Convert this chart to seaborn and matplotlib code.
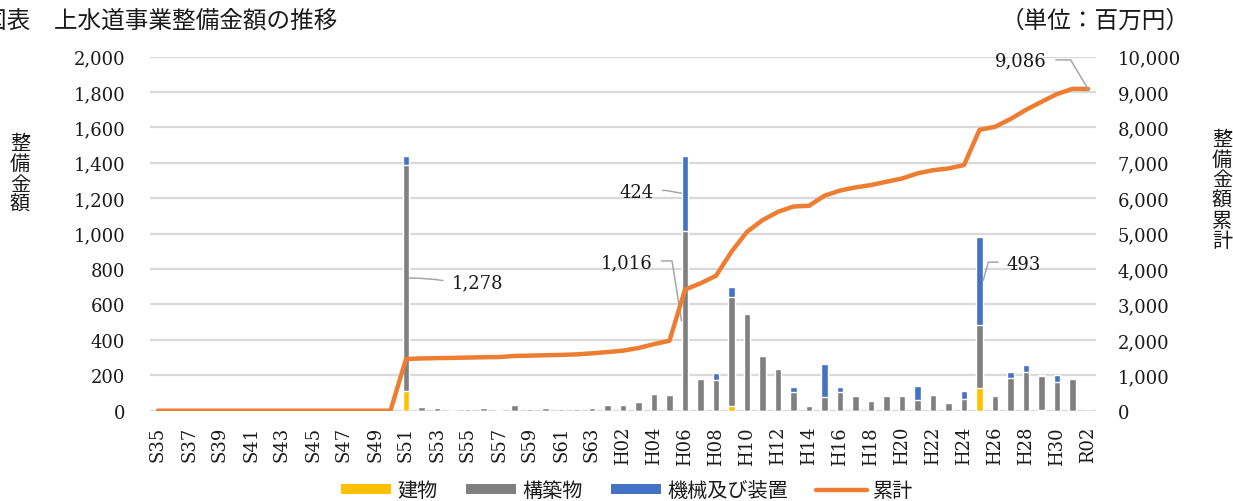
import numpy as np
import pandas as pd
import matplotlib
matplotlib.use("Agg")
import matplotlib.pyplot as plt
from matplotlib.patches import Patch
from matplotlib.lines import Line2D
import seaborn as sns

# Fiscal years (Showa / Heisei / Reiwa)
years = [
    "S35", "S36", "S37", "S38", "S39", "S40", "S41", "S42", "S43", "S44",
    "S45", "S46", "S47", "S48", "S49", "S50", "S51", "S52", "S53", "S54",
    "S55", "S56", "S57", "S58", "S59", "S60", "S61", "S62", "S63",
    "H01", "H02", "H03", "H04", "H05", "H06", "H07", "H08", "H09", "H10",
    "H11", "H12", "H13", "H14", "H15", "H16", "H17", "H18", "H19", "H20",
    "H21", "H22", "H23", "H24", "H25", "H26", "H27", "H28", "H29", "H30",
    "R01", "R02",
]

# Investment amount by asset type (million yen)
building = [
    0, 0, 0, 0, 0, 0, 0, 0, 0, 0, 0, 0, 0, 0, 0, 0,
    110, 0, 0, 0, 0, 0, 0, 0, 0, 0, 0, 0, 0,
    0, 0, 0, 0, 0, 0, 0, 0, 26, 0,
    0, 0, 0, 0, 0, 0, 0, 0, 0, 0,
    0, 0, 0, 0, 126, 0, 0, 0, 3, 0,
    0, 0,
]
structure = [
    0, 0, 0, 0, 0, 0, 0, 0, 0, 0, 0, 0, 0, 0, 0, 0,
    1278, 20, 17, 6, 11, 13, 4, 32, 9, 13, 9, 11, 17,
    35, 30, 50, 97, 86, 1016, 178, 171, 617, 545,
    310, 237, 103, 29, 80, 108, 85, 56, 85, 85,
    58, 90, 41, 65, 360, 82, 182, 216, 195, 160,
    179, 0,
]
machinery = [
    0, 0, 0, 0, 0, 0, 0, 0, 0, 0, 0, 0, 0, 0, 0, 0,
    48, 0, 0, 0, 0, 0, 0, 0, 0, 0, 0, 0, 0,
    0, 0, 0, 0, 0, 424, 2, 41, 58, 2,
    4, 0, 30, 3, 183, 26, 3, 0, 3, 3,
    80, 3, 4, 47, 493, 6, 36, 41, 4, 39,
    0, 0,
]
# Running total (million yen)
cumulative = [
    0, 0, 0, 0, 0, 0, 0, 0, 0, 0, 0, 0, 0, 0, 0, 0,
    1460, 1475, 1485, 1490, 1500, 1510, 1515, 1545, 1555, 1565, 1575, 1590, 1620,
    1655, 1695, 1770, 1880, 1975, 3420, 3595, 3810, 4490, 5050,
    5380, 5615, 5765, 5785, 6070, 6215, 6305, 6370, 6465, 6555,
    6700, 6790, 6840, 6935, 7930, 8015, 8235, 8495, 8720, 8940,
    9086, 9086,
]

left_ticks = [0, 200, 400, 600, 800, 1000, 1200, 1400, 1600, 1800, 2000]
right_ticks = [0, 1000, 2000, 3000, 4000, 5000, 6000, 7000, 8000, 9000, 10000]

YELLOW = "#FFC000"
GRAY = "#808080"
BLUE = "#4472C4"
ORANGE = "#ED7D31"
GRID = "#D9D9D9"
TXT = "#1a1a1a"
SERIF = "DejaVu Serif"

df = pd.DataFrame({
    "year": years,
    "building": building,
    "structure": structure,
    "machinery": machinery,
    "cumulative": cumulative,
})
df["level1"] = df["building"]
df["level2"] = df["building"] + df["structure"]
df["level3"] = df["level2"] + df["machinery"]
df["pos"] = np.arange(len(df))

sns.set_style("white")
plt.rcParams["font.family"] = ["Noto Sans CJK JP", "DejaVu Sans"]

W, H = 1233, 502
fig = plt.figure(figsize=(W / 100, H / 100), dpi=100)
ax_left, ax_right = 150.25, 1095.75
ax_top, ax_bottom = 57.5, 411.7
ax = fig.add_axes([ax_left / W, 1 - ax_bottom / H,
                   (ax_right - ax_left) / W, (ax_bottom - ax_top) / H])

# Stacked bars drawn as overlapping totals, tallest layer first
bar_w = 0.45
sns.barplot(data=df, x="year", y="level3", order=years, color=BLUE,
            width=bar_w, saturation=1, errorbar=None, ax=ax, zorder=2)
sns.barplot(data=df, x="year", y="level2", order=years, color=GRAY,
            width=bar_w, saturation=1, errorbar=None, ax=ax, zorder=2)
sns.barplot(data=df, x="year", y="level1", order=years, color=YELLOW,
            width=bar_w, saturation=1, errorbar=None, ax=ax, zorder=2)

ax.set_ylim(0, 2000)
ax.set_xlim(-0.5, len(years) - 0.5)
ax.set_yticks(left_ticks)
ax.set_yticklabels([f"{v:,}" for v in left_ticks])
ax.set_xticks(np.arange(0, len(years), 2))
ax.set_xticklabels(years[::2], rotation=90)
ax.set_xlabel("")
ax.set_ylabel("")
ax.yaxis.grid(True, color=GRID, lw=1.6, zorder=0)
ax.set_axisbelow(True)
for s in ax.spines.values():
    s.set_visible(False)
ax.tick_params(axis="y", length=0, pad=18, labelsize=13, labelcolor=TXT)
ax.tick_params(axis="x", length=0, pad=11, labelsize=13, labelcolor=TXT)

# Cumulative line on the secondary axis
ax2 = ax.twinx()
sns.lineplot(data=df, x="pos", y="cumulative", color=ORANGE, lw=3.2,
             ax=ax2, zorder=3, solid_joinstyle="round", solid_capstyle="round")
ax2.set_ylim(0, 10000)
ax2.set_xlim(-0.5, len(years) - 0.5)
ax2.set_yticks(right_ticks)
ax2.set_yticklabels([f"{v:,}" for v in right_ticks])
ax2.set_ylabel("")
ax2.set_xlabel("")
for s in ax2.spines.values():
    s.set_visible(False)
ax2.tick_params(axis="y", length=0, pad=16, labelsize=13, labelcolor=TXT)

for lbl in ax.get_xticklabels() + ax.get_yticklabels() + ax2.get_yticklabels():
    lbl.set_fontfamily(SERIF)

# Data labels with leader lines
lead = dict(arrowstyle="-", color="#A6A6A6", lw=1.1, shrinkB=0)
i51 = years.index("S51")
i06 = years.index("H06")
i25 = years.index("H25")
iend = len(years) - 1

ax.annotate(f"{structure[i51]:,}",
            xy=(i51 + bar_w / 2, building[i51] + structure[i51] / 2),
            xytext=(42, -4), textcoords="offset pixels",
            ha="left", va="center", fontsize=13, family=SERIF, color=TXT,
            arrowprops=dict(lead, relpos=(0, 0.5), shrinkA=4,
                            connectionstyle="arc3,rad=0.05"))
ax.annotate(f"{machinery[i06]:,}",
            xy=(i06 - bar_w / 2, structure[i06] + machinery[i06] / 2),
            xytext=(-28, 1), textcoords="offset pixels",
            ha="right", va="center", fontsize=13, family=SERIF, color=TXT,
            arrowprops=dict(lead, relpos=(1, 0.6), shrinkA=4,
                            connectionstyle="angle,angleA=0,angleB=170,rad=0"))
ax.annotate(f"{structure[i06]:,}",
            xy=(i06 - bar_w / 2, structure[i06] / 2),
            xytext=(-29, 58), textcoords="offset pixels",
            ha="right", va="center", fontsize=13, family=SERIF, color=TXT,
            arrowprops=dict(lead, relpos=(1, 0.6), shrinkA=4,
                            connectionstyle="angle,angleA=0,angleB=99,rad=0"))
ax.annotate(f"{machinery[i25]:,}",
            xy=(i25 + bar_w / 2, building[i25] + structure[i25] + machinery[i25] / 2),
            xytext=(24, 17), textcoords="offset pixels",
            ha="left", va="center", fontsize=13, family=SERIF, color=TXT,
            arrowprops=dict(lead, relpos=(0, 0.6), shrinkA=4,
                            connectionstyle="angle,angleA=0,angleB=74,rad=0"))
ax2.annotate(f"{cumulative[iend]:,}",
             xy=(iend, cumulative[iend]),
             xytext=(-41, 29), textcoords="offset pixels",
             ha="right", va="center", fontsize=13, family=SERIF, color=TXT,
             arrowprops=dict(lead, relpos=(1, 0.5), shrinkA=4,
                             connectionstyle="angle,angleA=0,angleB=121,rad=0"))

# Titles and axis captions
fig.text(-17 / W, 1 - 21 / H, "図表　上水道事業整備金額の推移",
         ha="left", va="center", fontsize=17, color=TXT)
fig.text(1190 / W, 1 - 21 / H, "（単位：百万円）",
         ha="right", va="center", fontsize=17, color=TXT)
fig.text(20 / W, 1 - 175 / H, "\n".join("整備金額"),
         ha="center", va="center", fontsize=14.5, linespacing=0.95, color=TXT)
fig.text(1222 / W, 1 - 191 / H, "\n".join("整備金額累計"),
         ha="center", va="center", fontsize=14.5, linespacing=0.95, color=TXT)

handles = [
    Patch(facecolor=YELLOW, edgecolor="none", label="建物"),
    Patch(facecolor=GRAY, edgecolor="none", label="構築物"),
    Patch(facecolor=BLUE, edgecolor="none", label="機械及び装置"),
    Line2D([0], [0], color=ORANGE, lw=3.2, solid_capstyle="round", label="累計"),
]
fig.legend(handles=handles, loc="center", bbox_to_anchor=(627 / W, 1 - 492 / H),
           ncol=4, frameon=False, fontsize=14.5, handlelength=2.5,
           handleheight=0.4, handletextpad=0.3, columnspacing=1.4,
           labelcolor=TXT)

fig.savefig("out.png", dpi=100)
